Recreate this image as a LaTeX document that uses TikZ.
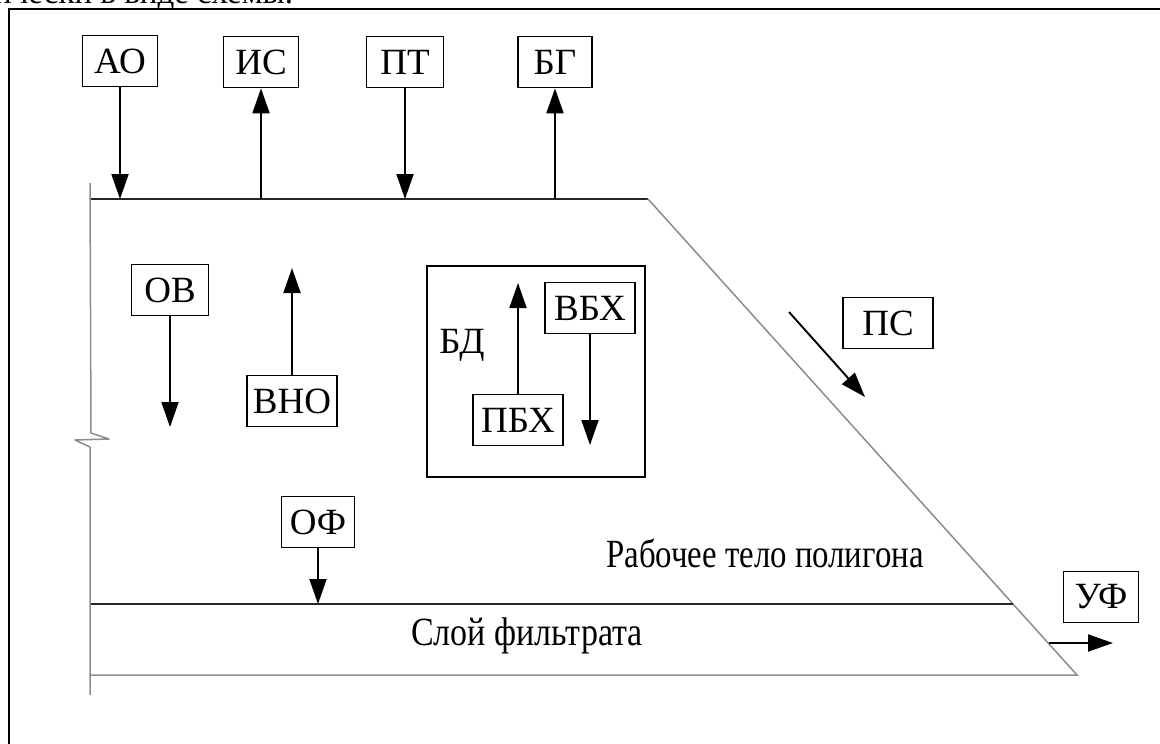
\documentclass[tikz,border=0pt]{standalone}
\usepackage{fontspec}
\setmainfont{Liberation Serif}
\usetikzlibrary{arrows.meta}

\begin{document}
\begin{tikzpicture}[x=1pt,y=-1pt,
  lbl/.style={draw, line width=1.7pt, font=\fontsize{37}{39}\selectfont,
    inner xsep=4pt, inner ysep=0pt, minimum height=51pt, minimum width=75pt},
  wide/.style={minimum width=90pt},
  flow/.style={line width=1.9pt, -{Triangle[length=25pt,width=17pt]}},
  darkline/.style={line width=1.8pt, draw=black!85},
  greyline/.style={line width=1.5pt, draw=black!45},
  caption/.style={font=\fontsize{40}{42}\selectfont, inner sep=0pt}
]
\useasboundingbox (0,0) rectangle (1160,744);
\begin{scope}
\clip (0,0) rectangle (1160,744);
% tail of the preceding line of text
\node[anchor=base west, inner sep=0pt, font=\fontsize{33}{35}\selectfont] (prev) at (-6,3) {ически в виде схемы.};
% outer frame
\draw[line width=2.4pt] (9,760) -- (9,9) -- (1175,9);
\end{scope}

% outline of the landfill body
\coordinate (tl) at (90,199);
\coordinate (tr) at (648,199);
\coordinate (fl) at (90,604);
\coordinate (fr) at (1013,604);
\coordinate (bl) at (90,675);
\coordinate (br) at (1077,675);
\coordinate (lt) at (90,183);
\coordinate (lb) at (90,695);

\draw[darkline] (tl) -- (tr);
\draw[greyline] (tr) -- (br) -- (bl);
\draw[darkline] (fl) -- (fr);
% left edge with a break mark
\draw[greyline, line join=round] (lt) -- (91,433) -- (109,439) -- (75,440) -- (90,447) -- (lb);

% boxes above the surface
\node[lbl] (ao) at (120,61) {АО};
\node[lbl] (is) at (261,62) {ИС};
\node[lbl, minimum width=77pt] (pt) at (405,62) {ПТ};
\node[lbl, minimum width=74pt] (bg) at (555,62) {БГ};

\draw[flow] (ao) -- (ao |- tl);
\draw[flow] (is |- tl) -- (is);
\draw[flow] (pt) -- (pt |- tl);
\draw[flow] (bg |- tl) -- (bg);

% processes inside the body
\node[lbl, minimum width=77pt] (ov) at (170,290) {ОВ};
\coordinate (ovend) at (170,427);
\draw[flow] (ov) -- (ovend);

\node[lbl, wide] (vno) at (292,401) {ВНО};
\coordinate (vnoend) at (292,268);
\draw[flow] (vno) -- (vnoend);

\node[draw, line width=1.7pt, minimum width=218pt, minimum height=211pt] (bd) at (536,371.5) {};
\node[font=\fontsize{37}{39}\selectfont, inner sep=0pt] (bdl) at (462,345) {БД};

\node[lbl, wide] (pbh) at (518,420) {ПБХ};
\coordinate (pbhend) at (518,283);
\draw[flow] (pbh) -- (pbhend);

\node[lbl, wide] (vbh) at (590,308) {ВБХ};
\coordinate (vbhend) at (590,445);
\draw[flow] (vbh) -- (vbhend);

\node[lbl, wide] (ps) at (888,323) {ПС};
\coordinate (psa) at (789,312);
\coordinate (psb) at (865,397);
\draw[flow] (psa) -- (psb);

\node[lbl, minimum width=73pt] (of) at (318,522) {ОФ};
\draw[flow] (of) -- (of |- fl);

\node[caption, xscale=0.82] (body) at (765,553) {Рабочее тело полигона};
\node[caption, xscale=0.85] (filt) at (527,636) {Слой фильтрата};

\node[lbl] (uf) at (1101,597) {УФ};
\coordinate (ufa) at (1049,643);
\coordinate (ufb) at (1113,643);
\draw[flow] (ufa) -- (ufb);
\end{tikzpicture}
\end{document}
